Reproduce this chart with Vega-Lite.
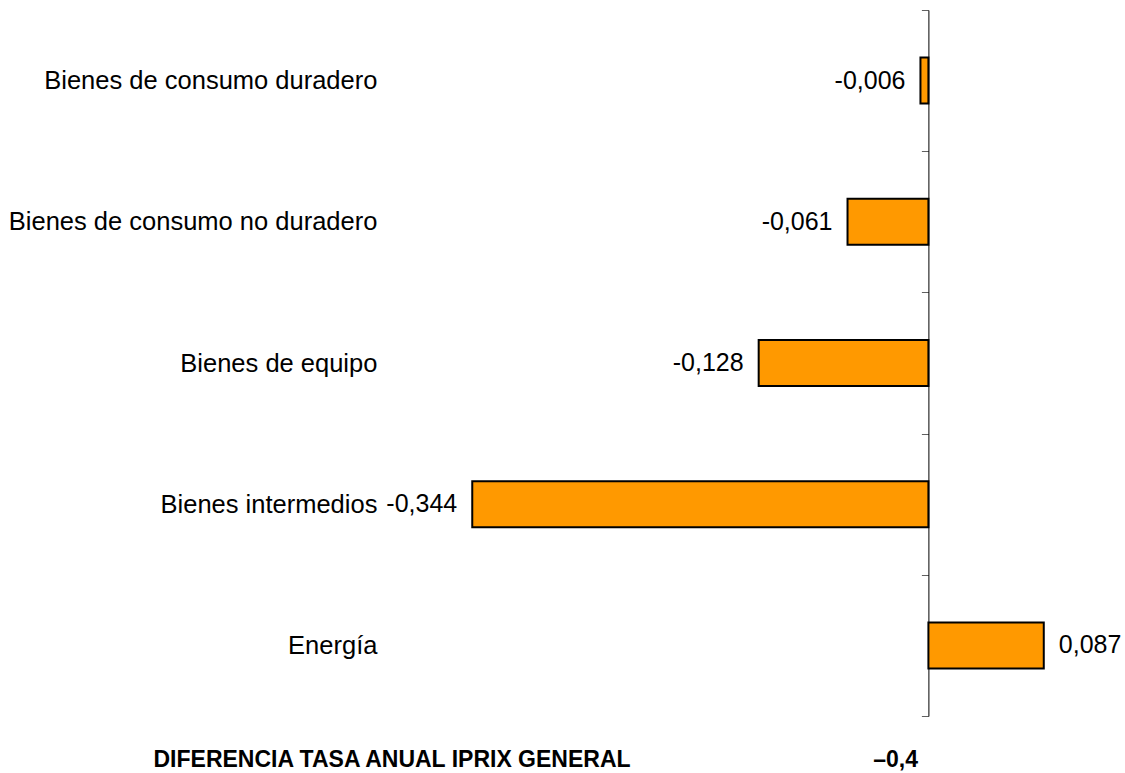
{
  "$schema": "https://vega.github.io/schema/vega-lite/v6.json",
  "autosize": {"type": "none"},
  "padding": {"left": 398, "top": 10, "right": 1, "bottom": 57},
  "width": 726,
  "height": 706,
  "background": "white",
  "config": {"view": {"stroke": null}, "font": "Liberation Sans"},
  "title": {"text": "–0,4", "orient": "bottom", "anchor": "end", "frame": "group", "fontSize": 23, "fontWeight": "bold", "font": "Liberation Sans", "color": "black", "dx": -206, "dy": -22, "offset": 0},
  "data": {"values": [
    {"grupo": "Bienes de consumo duradero", "valor": -0.006, "etiqueta": "-0,006"},
    {"grupo": "Bienes de consumo no duradero", "valor": -0.061, "etiqueta": "-0,061"},
    {"grupo": "Bienes de equipo", "valor": -0.128, "etiqueta": "-0,128"},
    {"grupo": "Bienes intermedios", "valor": -0.344, "etiqueta": "-0,344"},
    {"grupo": "Energía", "valor": 0.087, "etiqueta": "0,087"}
  ]},
  "encoding": {
    "y": {"field": "grupo", "type": "nominal", "sort": null,
      "scale": {"paddingInner": 0, "paddingOuter": 0},
      "axis": {"title": null, "orient": "left", "offset": -530.4, "domainColor": "black", "domainWidth": 1,
        "tickColor": "#606060", "tickSize": 7, "tickBand": "extent", "labelPadding": 544.5,
        "labelFontSize": 25.5, "labelColor": "black", "labelFont": "Liberation Sans", "labelLimit": 700}},
    "x": {"field": "valor", "type": "quantitative",
      "scale": {"domain": [-0.4, 0.1475], "nice": false, "zero": false},
      "axis": {"labels": false, "ticks": false, "domain": false, "grid": false,
        "title": "DIFERENCIA TASA ANUAL IPRIX GENERAL", "titleFont": "Liberation Sans", "titleFontSize": 23,
        "titleFontWeight": "bold", "titleColor": "black", "titleAlign": "left", "titleAnchor": null,
        "titleX": -245, "titleY": 50, "titleBaseline": "alphabetic"}}
  },
  "layer": [
    {"mark": {"type": "bar", "size": 46, "fill": "#FF9900", "stroke": "black", "strokeWidth": 2}},
    {"transform": [{"filter": "datum.valor < 0"}],
      "mark": {"type": "text", "align": "right", "baseline": "middle", "dx": -15, "fontSize": 25, "color": "black", "font": "Liberation Sans"},
      "encoding": {"text": {"field": "etiqueta"}}},
    {"transform": [{"filter": "datum.valor >= 0"}],
      "mark": {"type": "text", "align": "left", "baseline": "middle", "dx": 15, "fontSize": 25, "color": "black", "font": "Liberation Sans"},
      "encoding": {"text": {"field": "etiqueta"}}}
  ]
}
